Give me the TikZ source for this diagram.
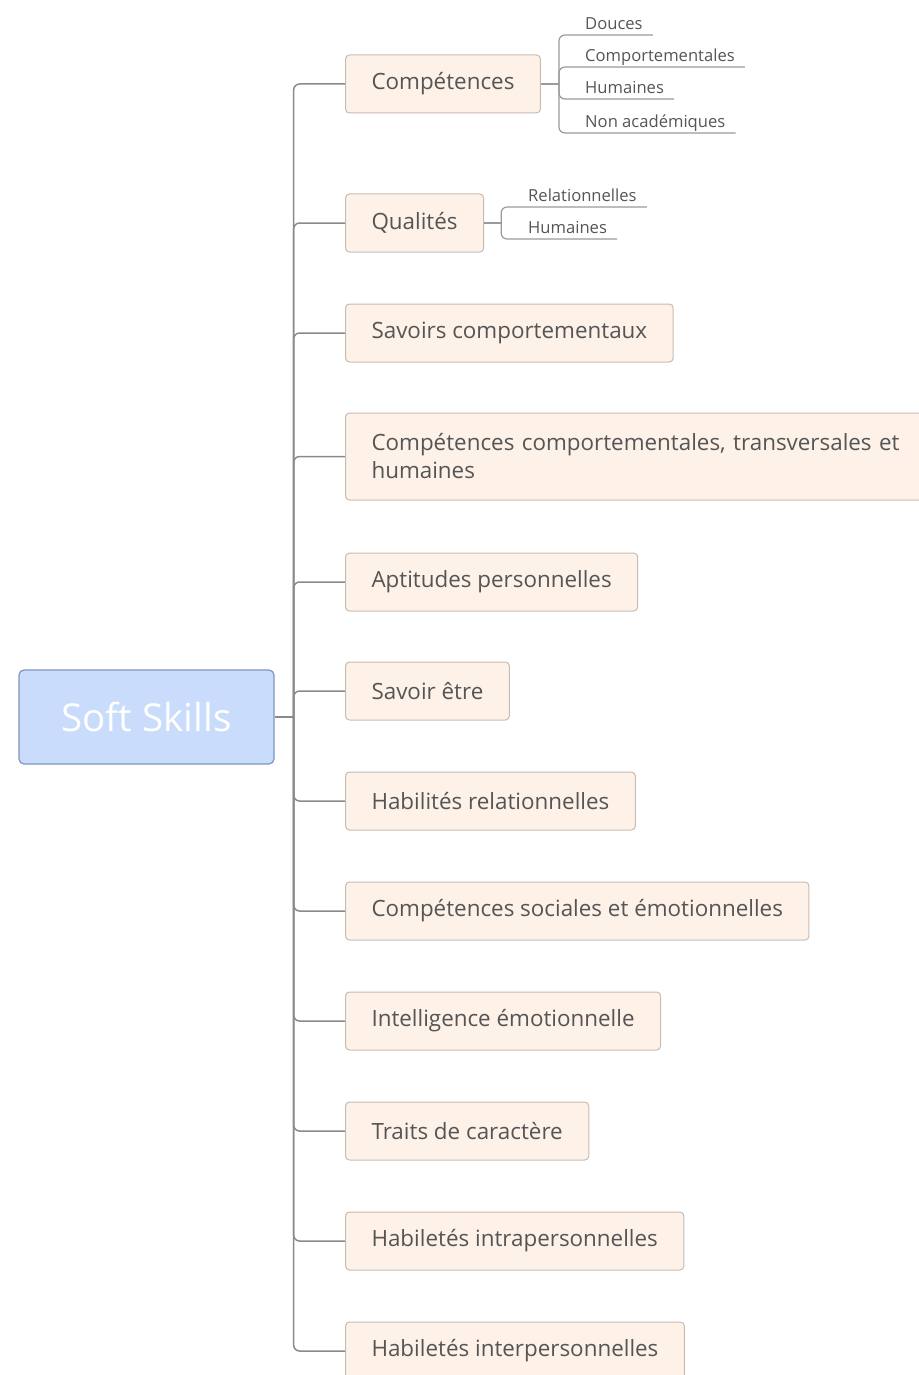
\documentclass[tikz,border=0pt]{standalone}
\usepackage{fontspec}
\setmainfont{Open Sans}
\usetikzlibrary{positioning}
\definecolor{boxfill}{HTML}{FDF1E8}
\definecolor{boxline}{HTML}{C8BCB2}
\definecolor{rootfill}{HTML}{C9DCFB}
\definecolor{rootline}{HTML}{7F95C0}
\definecolor{textgrey}{HTML}{555555}
\definecolor{linegrey}{HTML}{8A8A8A}
\definecolor{twiggrey}{HTML}{9A9A9A}
\begin{document}
\begin{tikzpicture}[x=1pt,y=-1pt]
\tikzstyle{root}=[rectangle, rounded corners=5pt, draw=rootline, fill=rootfill, line width=1.2pt, minimum width=255pt, minimum height=94pt, text=white, font=\fontsize{38.5}{44}\selectfont]
\tikzstyle{branch}=[rectangle, rounded corners=4pt, draw=boxline, fill=boxfill, line width=1pt, minimum height=58pt, inner xsep=26pt, text=textgrey, font=\fontsize{22.4}{28}\selectfont]
\tikzstyle{leaf}=[inner xsep=10pt, inner ysep=2pt, text height=12pt, text depth=3pt, text=textgrey, font=\fontsize{16.6}{19}\selectfont]
\tikzstyle{trunk}=[line width=1.5pt, draw=linegrey, rounded corners=6pt]
\tikzstyle{twig}=[line width=1.2pt, draw=twiggrey, rounded corners=6pt]
	\useasboundingbox (0,0) rectangle (918,1375);
	\node[root] (soft) at (146.5,717) {Soft Skills};
	\node[branch, anchor=west] (b1) at (345,84) {Compétences};
	\node[branch, below=80pt of b1.south west, anchor=north west] (b2) {Qualités};
	\node[branch, below=51pt of b2.south west, anchor=north west] (b3) {Savoirs comportementaux};
	\node[branch, below=50pt of b3.south west, anchor=north west, minimum height=87pt, text width=540pt, align=left] (b4) {Compétences comportementales, transversales et\\humaines};
	\node[branch, below=52pt of b4.south west, anchor=north west] (b5) {Aptitudes personnelles};
	\node[branch, below=50pt of b5.south west, anchor=north west] (b6) {Savoir être};
	\node[branch, below=51pt of b6.south west, anchor=north west] (b7) {Habilités relationnelles};
	\node[branch, below=51pt of b7.south west, anchor=north west] (b8) {Compétences sociales et émotionnelles};
	\node[branch, below=51pt of b8.south west, anchor=north west] (b9) {Intelligence émotionnelle};
	\node[branch, below=51pt of b9.south west, anchor=north west] (b10) {Traits de caractère};
	\node[branch, below=51pt of b10.south west, anchor=north west] (b11) {Habiletés intrapersonnelles};
	\node[branch, below=51pt of b11.south west, anchor=north west] (b12) {Habiletés interpersonnelles};
	% trunk
	\draw[line width=1.5pt, draw=linegrey] (soft.east) -- ++(19,0) coordinate (hub);
	\foreach \b in {b1,b2,b3,b4,b5,b6,b7,b8,b9,b10,b11,b12}
		\draw[trunk] (hub) |- (\b.west);
	% sub topics
	\node[leaf, anchor=south west] (c1) at (575,35) {Douces};
	\node[leaf, anchor=south west] (c2) at (575,67) {Comportementales};
	\node[leaf, anchor=south west] (c3) at (575,99) {Humaines};
	\node[leaf, anchor=south west] (c4) at (575,133) {Non académiques};
	\draw[line width=1.2pt, draw=twiggrey] (b1.east) -- ++(18,0) coordinate (j1);
	\foreach \c in {c1,c2,c3,c4}
		\draw[twig] (j1) |- (\c.south west) -- (\c.south east);
	\node[leaf, anchor=south west] (q1) at (518,207) {Relationnelles};
	\node[leaf, anchor=south west] (q2) at (518,239) {Humaines};
	\draw[line width=1.2pt, draw=twiggrey] (b2.east) -- ++(17,0) coordinate (j2);
	\foreach \q in {q1,q2}
		\draw[twig] (j2) |- (\q.south west) -- (\q.south east);
\end{tikzpicture}
\end{document}
